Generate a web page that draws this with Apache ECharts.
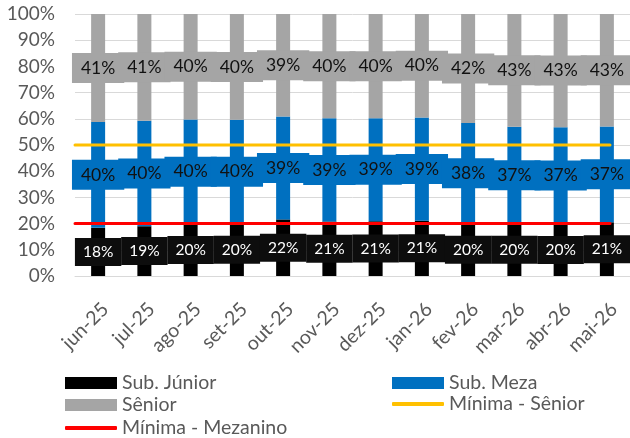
<!DOCTYPE html>
<html>
<head>
<meta charset="utf-8">
<script src="https://cdn.jsdelivr.net/npm/echarts@6/dist/echarts.min.js"></script>
<style>html,body{margin:0;padding:0;background:#fff}#c{width:630px;height:438px}</style>
</head>
<body>
<div id="c"></div>
<script>
const categories = ['jun-25','jul-25','ago-25','set-25','out-25','nov-25','dez-25','jan-26','fev-26','mar-26','abr-26','mai-26'];
const subJunior = [18.4, 19.0, 19.9, 20.0, 21.6, 20.8, 20.9, 21.1, 20.0, 20.0, 19.9, 20.5];
const subMeza   = [40.4, 40.3, 39.8, 39.6, 39.3, 39.4, 39.3, 39.4, 38.4, 37.0, 36.9, 36.6];
const senior    = [41.2, 40.7, 40.3, 40.4, 39.1, 39.8, 39.8, 39.5, 41.6, 43.0, 43.2, 42.9];
const minimaSenior   = [50,50,50,50,50,50,50,50,50,50,50,50];
const minimaMezanino = [20,20,20,20,20,20,20,20,20,20,20,20];

const FONT = 'Lato';
const chart = echarts.init(document.getElementById('c'), null, {renderer:'canvas'});
const pct = p => Math.round(p.value) + '%';
function barLabel(bg, color, size, pad) {
  return {show:true, position:'inside', formatter:pct, backgroundColor:bg, color:color,
    fontFamily:FONT, fontSize:size, padding:pad, borderRadius:0};
}
function legendItem(name, left, top, icon, h) {
  return {data:[{name:name, icon:icon}], left:left, top:top, itemWidth:52, itemHeight:h,
    textStyle:{fontFamily:FONT, fontSize:19.5, color:'#595959'}, selectedMode:false};
}
chart.setOption({
  animation:false,
  grid:[
    {left:75, right:0, top:14, bottom:162},
    {left:75, right:20, top:14, bottom:162}
  ],
  xAxis:[
    {type:'category', data:categories, gridIndex:0,
     axisLine:{show:true, lineStyle:{color:'#d9d9d9', width:1}}, axisTick:{show:false},
     axisLabel:{rotate:45, fontFamily:FONT, fontSize:19.5, color:'#595959', margin:23, interval:0, verticalAlign:'top'}},
    {type:'category', data:categories, gridIndex:1, boundaryGap:false, show:false}
  ],
  yAxis:[
    {type:'value', min:0, max:100, interval:10, gridIndex:0,
     axisLabel:{formatter:v=>v+'%', fontFamily:FONT, fontSize:19, color:'#595959', margin:20},
     splitLine:{lineStyle:{color:'#d9d9d9', width:1}}, axisLine:{show:false}, axisTick:{show:false}},
    {type:'value', min:0, max:100, gridIndex:1, show:false}
  ],
  legend:[
    legendItem('Sub. Júnior', 60, 368, 'rect', 12),
    legendItem('Sub. Meza', 387, 368, 'rect', 12),
    legendItem('Sênior', 60, 390, 'rect', 12),
    legendItem('Mínima - Sênior', 387, 389, 'roundRect', 4),
    legendItem('Mínima - Mezanino', 60, 413, 'roundRect', 4)
  ],
  series:[
    {name:'Sub. Júnior', type:'bar', stack:'a', data:subJunior, barWidth:14, itemStyle:{color:'#000000'},
     label:barLabel('#0d0d0d','#ffffff',15.5,[6,8,6,8]), z:3},
    {name:'Sub. Meza', type:'bar', stack:'a', data:subMeza, barWidth:14, itemStyle:{color:'#0070C0'},
     label:barLabel('#0070C0','#111111',17.5,[6,9,6,9]), z:3},
    {name:'Sênior', type:'bar', stack:'a', data:senior, barWidth:14, itemStyle:{color:'#A5A5A5'},
     label:barLabel('#A5A5A5','#111111',17.5,[6,9,6,9]), z:3},
    {name:'Mínima - Sênior', type:'line', xAxisIndex:1, yAxisIndex:1, data:minimaSenior,
     showSymbol:false, symbol:'none', lineStyle:{color:'#FFC000', width:3, cap:'round'}, itemStyle:{color:'#FFC000'}, z:5},
    {name:'Mínima - Mezanino', type:'line', xAxisIndex:1, yAxisIndex:1, data:minimaMezanino,
     showSymbol:false, symbol:'none', lineStyle:{color:'#FF0000', width:3, cap:'round'}, itemStyle:{color:'#FF0000'}, z:5}
  ]
});
</script>
</body>
</html>
